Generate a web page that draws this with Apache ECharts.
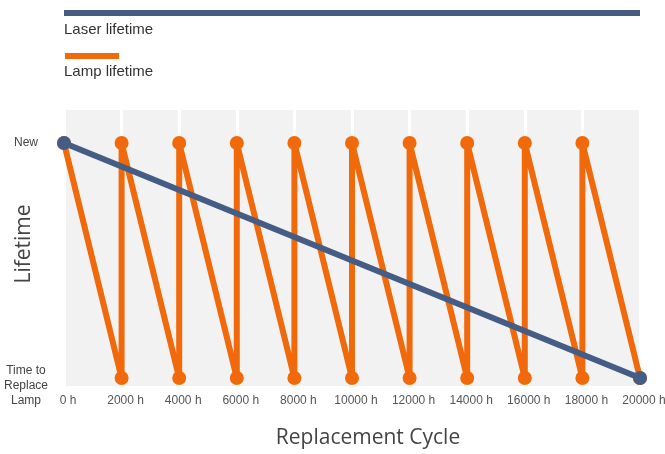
<!DOCTYPE html>
<html><head><meta charset="utf-8">
<script src="https://cdn.jsdelivr.net/npm/echarts@6/dist/echarts.min.js"></script>
<style>html,body{margin:0;padding:0;background:#fff}#c{width:665px;height:454px}</style>
</head><body><div id="c"></div>
<script>
const xTicks = [0,2000,4000,6000,8000,10000,12000,14000,16000,18000,20000];
const lampHours = [0,2000,2000,4000,4000,6000,6000,8000,8000,10000,10000,12000,12000,14000,14000,16000,16000,18000,18000,20000];
const lampLevel = [1,0,1,0,1,0,1,0,1,0,1,0,1,0,1,0,1,0,1,0];
const laserHours = [0,20000];
const laserLevel = [1,0];
const yLabels = {1:'New', 0:'Time to\nReplace\nLamp'};
const xTitle = 'Replacement Cycle';
const yTitle = 'Lifetime';

const lampData = lampHours.map((h,i)=>[h,lampLevel[i]]);
const laserData = laserHours.map((h,i)=>[h,laserLevel[i]]);
const chart = echarts.init(document.getElementById('c'));
chart.setOption({
  animation:false,
  graphic:[
    {type:'rect',shape:{x:64,y:10,width:576,height:6},style:{fill:'#455d85'}},
    {type:'text',x:64,y:22,style:{text:'Laser lifetime',fill:'#333',font:'15px "Liberation Sans", Arial, sans-serif'}},
    {type:'rect',shape:{x:65,y:53,width:54,height:6},style:{fill:'#f0690a'}},
    {type:'text',x:64,y:64,style:{text:'Lamp lifetime',fill:'#333',font:'15px "Liberation Sans", Arial, sans-serif'}},
    {type:'text',x:368,y:438,style:{text:xTitle,fill:'#444',font:'21px "Open Sans", sans-serif',textAlign:'center',textVerticalAlign:'middle'}},
    {type:'text',x:24,y:244,rotation:Math.PI/2,style:{text:yTitle,fill:'#444',font:'21px "Open Sans", sans-serif',textAlign:'center',textVerticalAlign:'middle'}}
  ],
  grid:{left:64,right:25,top:110,bottom:68,show:true,backgroundColor:'#f2f2f2',borderWidth:0,outerBoundsMode:'none',containLabel:false},
  xAxis:{type:'value',min:0,max:20000,interval:2000,
    axisLine:{show:false},axisTick:{show:false},
    splitLine:{show:true,lineStyle:{color:'#ffffff',width:3}},
    axisLabel:{margin:9,color:'#555',fontSize:12,padding:[0,0,0,8],fontFamily:'"Liberation Sans", Arial, sans-serif',formatter:v=>v+' h'}
  },
  yAxis:{type:'value',min:-0.034,max:1.1404,
    axisLine:{show:false},axisTick:{show:false},splitLine:{show:false},
    axisLabel:{customValues:[0,1],margin:38,align:'center',color:'#444',fontSize:12,lineHeight:15,
      fontFamily:'"Liberation Sans", Arial, sans-serif',
      formatter:v=> v===0 ? '{b|'+yLabels[0]+'}' : yLabels[1],
      rich:{b:{fontSize:12,lineHeight:15,color:'#444',padding:[16,0,0,0],align:'center'}}}
  },
  series:[
    {type:'line',data:lampData,symbol:'circle',symbolSize:14,showAllSymbol:true,
      lineStyle:{color:'#f0690a',width:6},itemStyle:{color:'#f0690a'},z:2},
    {type:'line',data:laserData,symbol:'circle',symbolSize:14,
      lineStyle:{color:'#455d85',width:6},itemStyle:{color:'#455d85'},z:3}
  ]
});
</script></body></html>
